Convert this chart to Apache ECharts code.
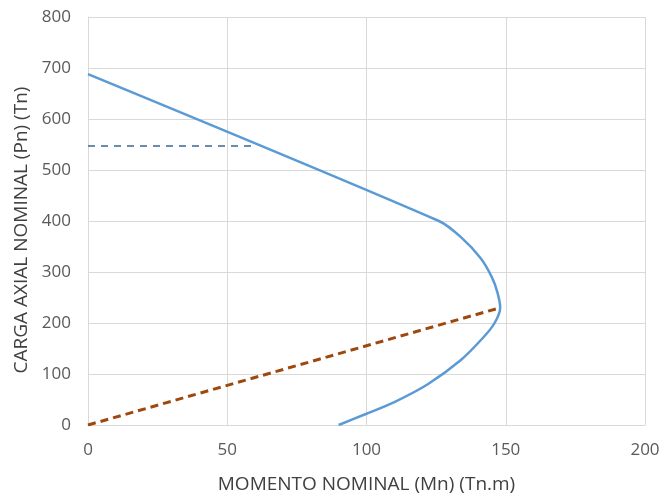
<!DOCTYPE html>
<html><head><meta charset="utf-8">
<script src="https://cdn.jsdelivr.net/npm/echarts@6/dist/echarts.min.js"></script>
<style>html,body{margin:0;padding:0;background:#fff}#c{width:660px;height:497px}</style>
</head><body><div id="c"></div>
<script>
const xTicks = [0, 50, 100, 150, 200];
const yTicks = [0, 100, 200, 300, 400, 500, 600, 700, 800];
// Interaction curve: [Mn, Pn]
const curveMn = [0, 126, 134, 141, 145, 147, 148, 146, 142, 134, 122, 110, 100, 90];
const curvePn = [688, 400, 368, 327, 290, 260, 230, 200, 172, 128, 80, 45, 22, 0];
// Max axial load (dashed)
const maxMn = [0, 59];
const maxPn = [547, 547];
// Balanced line
const balMn = [0, 148];
const balPn = [0, 230];

const zip = (a, b) => a.map((v, i) => [v, b[i]]);
const font = "'Open Sans', 'Liberation Sans', sans-serif";
const chart = echarts.init(document.getElementById('c'));
chart.setOption({
  animation: false,
  grid: { left: 88, right: 15, top: 17, bottom: 72, containLabel: false, outerBoundsMode: 'none' },
  xAxis: {
    type: 'value', min: 0, max: 200, interval: 50,
    name: 'MOMENTO NOMINAL (Mn) (Tn.m)', nameLocation: 'middle', nameGap: 50,
    nameTextStyle: { color: '#404040', fontSize: 19, fontFamily: font },
    axisLine: { show: true, lineStyle: { color: '#d9d9d9' } },
    axisTick: { show: false },
    axisLabel: { color: '#595959', fontSize: 17, fontFamily: font, margin: 17 },
    splitLine: { show: true, lineStyle: { color: '#d9d9d9' } }
  },
  yAxis: {
    type: 'value', min: 0, max: 800, interval: 100,
    name: 'CARGA AXIAL NOMINAL (Pn) (Tn)', nameLocation: 'middle', nameGap: 56,
    nameTextStyle: { color: '#404040', fontSize: 19, fontFamily: font, padding: [0, 18, 0, 0] },
    axisLine: { show: true, lineStyle: { color: '#d9d9d9' } },
    axisTick: { show: false },
    axisLabel: { color: '#595959', fontSize: 17, fontFamily: font, margin: 17 },
    splitLine: { show: true, lineStyle: { color: '#d9d9d9' } }
  },
  series: [
    { type: 'line', data: zip(curveMn, curvePn), smooth: 0.25, symbol: 'none',
      lineStyle: { color: '#5B9BD5', width: 2.5 } },
    { type: 'line', data: zip(maxMn, maxPn), symbol: 'none',
      lineStyle: { color: '#3A6795', width: 1.5, type: [7, 6] } },
    { type: 'line', data: zip(balMn, balPn), symbol: 'none',
      lineStyle: { color: '#9E480E', width: 3, type: [8, 5] } }
  ]
});
</script></body></html>
